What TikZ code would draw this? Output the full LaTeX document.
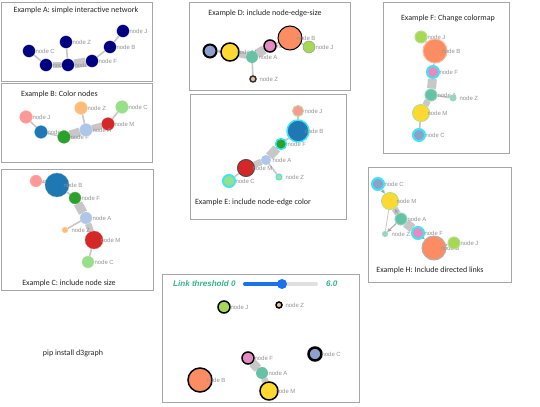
\documentclass[tikz,border=0pt]{standalone}
\usepackage{fontspec}
\setmainfont{Carlito}
\newfontfamily\lblfont{Liberation Sans}
\newfontfamily\sldfont{Liberation Sans}
\usetikzlibrary{arrows.meta}
\definecolor{navyA}{HTML}{000080}
\definecolor{tabB}{HTML}{1F77B4}
\definecolor{tabF}{HTML}{2CA02C}
\definecolor{tabA}{HTML}{AEC7E8}
\definecolor{tabM}{HTML}{D62728}
\definecolor{tabZ}{HTML}{FFBB78}
\definecolor{tabC}{HTML}{98DF8A}
\definecolor{tabJ}{HTML}{FF9896}
\definecolor{tabZE}{HTML}{BED78C}
\definecolor{s2C}{HTML}{8DA0CB}
\definecolor{s2M}{HTML}{FFD92F}
\definecolor{s2A}{HTML}{66C2A5}
\definecolor{s2Al}{HTML}{9AD5C0}
\definecolor{s2F}{HTML}{E78AC3}
\definecolor{s2B}{HTML}{FC8D62}
\definecolor{s2J}{HTML}{A6D854}
\definecolor{s2Z}{HTML}{E5C494}
\definecolor{glow}{HTML}{3FE6F2}
\definecolor{rimg}{HTML}{B4E08C}
\definecolor{sldtxt}{HTML}{34B48E}
\definecolor{sldblue}{HTML}{1A73E8}
\pgfdeclarelayer{paper}
\pgfdeclarelayer{links}
\pgfsetlayers{paper,links,main}
\tikzset{panel/.style={draw=black!35,line width=1pt},
  ttl/.style={font=\fontsize{11.4}{13}\selectfont,text=black!85,inner sep=0pt},
  dot/.style={circle,inner sep=0pt,minimum size=6.4mm,draw=white,line width=.3pt},
  lbl/.style={font=\lblfont\fontsize{8.5}{10}\selectfont,text=black!42,anchor=west,inner sep=0pt},
  link/.style={draw=black!22,line width=.8mm},
  mlink/.style={link,line width=3.2mm},
  wlink/.style={link,line width=4.5mm},
  dlink/.style={link,draw=black!35,line width=.5mm,-{Stealth[length=2.2mm,width=2mm]}}}

\begin{document}
\begin{tikzpicture}[x=.5mm,y=-.5mm]
  \useasboundingbox (0,0) rectangle (540,407);
  \begin{pgfonlayer}{paper}
    \fill[white] (0,0) rectangle (540,407);
  \end{pgfonlayer}
  % panel frames
  \foreach \xa/\ya/\xb/\yb in {1/2/152/81,1/83/152/162,1/169/153/290,189/2/350/90,
    190/94/346/219,383/2/509/153,368/167/511/282,162/274/359/402}
    \draw[panel] (\xa,\ya) rectangle (\xb,\yb);
  \node[ttl] (tA) at (76,10) {Example A: simple interactive network};
  \node[ttl,anchor=west] (tB) at (21,94) {Example B: Color nodes};
  \node[ttl] (tC) at (69,283) {Example C: include node size};
  \node[ttl] (tD) at (265,13) {Example D: include node-edge-size};
  \node[ttl] (tE) at (253,202) {Example E: include node-edge color};
  \node[ttl] (tF) at (448,18) {Example F: Change colormap};
  \node[ttl] (tH) at (430,270) {Example H: Include directed links};
  \node[ttl] (pip) at (73,353) {pip install d3graph};
  % A
  \foreach \w/\x/\y in {J/123/31,B/110/47,Z/66/42,C/29/51,M/46/65,A/68/65,F/92/61}{
    \node[dot,fill=navyA] (a\w) at (\x,\y) {};
    \node[lbl] (a\w t) at ([xshift=3.2mm]a\w.center) {node \w};}
  % B
  \foreach \w/\x/\y/\cl in {J/26/117/tabJ,Z/81/108/tabZ,C/122/107/tabC,M/108/124/tabM,
    B/41/132/tabB,F/64/137/tabF,A/86/130/tabA}{
    \node[dot,fill=\cl,draw=\cl!70] (b\w) at (\x,\y) {};
    \node[lbl] (b\w t) at ([xshift=3.2mm]b\w.center) {node \w};}
  % C
  \foreach \w/\x/\y/\dm/\cl in {J/36/181/12/tabJ,B/57/185/24/tabB,F/75/198/12/tabF,
    A/86/218/12/tabA,Z/65/230/6/tabZ,M/94/240/18/tabM,C/88/262/12/tabC}{
    \node[dot,minimum size=\dm*.5mm,fill=\cl,draw=\cl!70] (c\w) at (\x,\y) {};
    \node[lbl] (c\w t) at ([xshift=3.2mm]c\w.center) {node \w};}
  % D
  \foreach \w/\x/\y/\dm/\cl/\rk/\rw in {C/210/51/13/s2C/black/2,M/230/52/18/s2M/black/1.5,
    A/252/57/12/s2A/none/0,F/270/46/12/s2F/black/1.5,B/290/38/24/s2B/black/1,
    J/309/47/12/s2J/black!40/.5,Z/253/79/6/s2Z/black!80/1.5}{
    \node[dot,minimum size=\dm*.5mm,fill=\cl,draw=\rk,line width=\rw*.5mm] (d\w) at (\x,\y) {};
    \node[lbl] (d\w t) at ([xshift=3.2mm]d\w.center) {node \w};}
  % E
  \foreach \w/\x/\y/\dm/\cl/\rk/\rw in {J/298/111/11/tabJ/rimg/1,B/298/131/22/tabB/glow/1.5,
    F/281/144/11/tabF/glow/1.5,A/266/160/10/tabA/none/0,M/246/168/17/tabM/black!70/1,
    C/229/181/12/tabC/glow/2,Z/279/177/6/tabZE/glow/1}{
    \node[dot,minimum size=\dm*.5mm,fill=\cl,draw=\rk,line width=\rw*.5mm] (e\w) at (\x,\y) {};
    \node[lbl] (e\w t) at ([xshift=3.2mm]e\w.center) {node \w};}
  % F
  \foreach \w/\x/\y/\dm/\cl/\rk/\rw in {J/421/37/12/s2J/rimg/1,B/435/51/24/s2B/s2B!60/1,
    F/433/72/12/s2F/glow/2,A/431/95/12/s2A/s2A!70/1,Z/453/98/7/s2Al/none/0,
    M/421/113/17/s2M/rimg/1,C/419/135/12/s2C/glow/2}{
    \node[dot,minimum size=\dm*.5mm,fill=\cl,draw=\rk,line width=\rw*.5mm] (f\w) at (\x,\y) {};
    \node[lbl] (f\w t) at ([xshift=3.2mm]f\w.center) {node \w};}
  % H
  \foreach \w/\x/\y/\dm/\cl/\rk/\rw in {C/378/184/12/s2C/glow/2,M/390/201/17/s2M/rimg/1,
    A/401/219/12/s2A/s2A!70/1,Z/385/234/6/s2Al/none/0,F/418/233/12/s2F/glow/2,
    B/434/248/24/s2B/black!30/1,J/454/243/12/s2J/rimg/1}{
    \node[dot,minimum size=\dm*.5mm,fill=\cl,draw=\rk,line width=\rw*.5mm] (h\w) at (\x,\y) {};
    \node[lbl] (h\w t) at ([xshift=3.2mm]h\w.center) {node \w};}
  % threshold
  \foreach \w/\x/\y/\dm/\cl/\rk/\rw in {J/224/307/12/s2J/black/1.5,Z/279/305/6/s2Z/black/1.5,
    C/315/354/13/s2C/black/2.5,F/248/358/12/s2F/black/1.5,A/262/373/12/s2A/none/0,
    B/200/380/24/s2B/black/1.5,M/269/391/18/s2M/black/1.5}{
    \node[dot,minimum size=\dm*.5mm,fill=\cl,draw=\rk,line width=\rw*.5mm] (g\w) at (\x,\y) {};
    \node[lbl] (g\w t) at ([xshift=3.2mm]g\w.center) {node \w};}
  \node[font=\sldfont\bfseries\itshape\fontsize{11.5}{13}\selectfont,text=sldtxt,anchor=west,
    inner sep=0pt] (thr) at (173,284) {Link threshold 0};
  \node[font=\sldfont\bfseries\itshape\fontsize{11.5}{13}\selectfont,text=sldtxt,anchor=west,
    inner sep=0pt] (thrv) at (326,284) {6.0};
  \coordinate (s0) at (245,284);
  \coordinate (s1) at (316,284);
  \draw[black!12,line width=2mm,line cap=round] (s0) -- (s1);
  \node[circle,fill=sldblue,inner sep=0pt,minimum size=5mm] (knob) at (282,284) {};
  \draw[sldblue,line width=2mm,line cap=round] (s0) -- (knob.center);
  % links
  \begin{pgfonlayer}{links}
    \foreach \g in {a,b,c,d,e,f}{
      \draw[link] (\g C)--(\g M) (\g F)--(\g B) (\g B)--(\g J) (\g Z)--(\g A);
      \draw[mlink] (\g M)--(\g A);
      \draw[wlink] (\g A)--(\g F);}
    \draw[mlink] (hM)--(hA);
    \draw[wlink] (hA)--(hF);
    \draw[link,line width=.4mm] (hM)--(hZ);
    \draw[dlink] (hC)--(hM);
    \draw[dlink] (hA)--(hM);
    \draw[dlink] (hA)--(hZ);
    \draw[dlink] (hF)--(hB);
    \draw[dlink] (hB)--(hJ);
    \draw[mlink] (gM)--(gA);
    \draw[wlink] (gA)--(gF);
  \end{pgfonlayer}
\end{tikzpicture}
\end{document}
